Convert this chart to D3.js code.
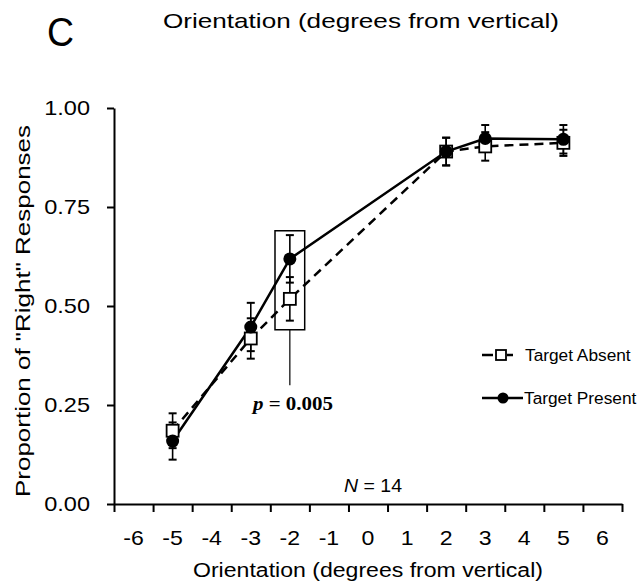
<!DOCTYPE html>
<html lang="en">
<head>
<meta charset="UTF-8">
<title>Orientation chart</title>
<script src="https://cdn.jsdelivr.net/npm/d3@7.8.4/dist/d3.min.js"></script>
<style>
    body { margin: 0; background: #fff; font-family: Arial, "Liberation Sans", sans-serif; }
    svg { display: block; }
    .tick text { font-family: Arial, "Liberation Sans", sans-serif; }
</style>
</head>
<body>
<svg id="chart" width="642" height="583"></svg>
<script>
    // orientations tested (degrees from vertical)
    const orientations = [-5, -3, -2, 2, 3, 5];
    // proportion of "right" responses, with error bar half-widths
    const absentMean = [0.185, 0.418, 0.518, 0.890, 0.903, 0.912];
    const absentErr = [0.044, 0.051, 0.055, 0.035, 0.036, 0.033];
    const presentMean = [0.159, 0.447, 0.619, 0.890, 0.923, 0.921];
    const presentErr = [0.047, 0.061, 0.060, 0.035, 0.034, 0.036];
    const xLabels = [-6, -5, -4, -3, -2, -1, 0, 1, 2, 3, 4, 5, 6];
    const yTicks = [0, 0.25, 0.5, 0.75, 1.0];

    const svg = d3.select("#chart");
    const margin = { left: 114, right: 20, top: 108, bottom: 79 };
    const width = 642, height = 583;

    const x = d3.scaleLinear().domain([-6.5, 6.5]).range([margin.left, width - margin.right]);
    const y = d3.scaleLinear().domain([0, 1]).range([height - margin.bottom, margin.top]);

    const absent = orientations.map((o, i) => ({ x: o, y: absentMean[i], e: absentErr[i] }));
    const present = orientations.map((o, i) => ({ x: o, y: presentMean[i], e: presentErr[i] }));

    // the original's lettering is a bit wider than plain Arial
    function stretch(sel, k) {
        sel.each(function() {
            const w = this.getComputedTextLength();
            d3.select(this).attr("textLength", w * k).attr("lengthAdjust", "spacingAndGlyphs");
        });
    }

    // x axis: tick marks between categories, labels in the middle
    const xAxis = svg.append("g")
        .attr("transform", `translate(0,${y(0)})`)
        .call(d3.axisBottom(x)
            .tickValues(d3.range(-6.5, 6.51, 1))
            .tickSize(8)
            .tickSizeOuter(0)
            .tickFormat(""));
    xAxis.select(".domain").attr("stroke-width", 2);
    xAxis.selectAll(".tick line").attr("stroke-width", 2);

    svg.append("g").selectAll("text")
        .data(xLabels)
        .enter().append("text")
        .attr("x", d => x(d))
        .attr("y", 545)
        .attr("text-anchor", "middle")
        .style("font-size", "21px")
        .text(d => d)
        .call(stretch, 1.1);

    const yAxis = svg.append("g")
        .attr("transform", `translate(${x(-6.5)},0)`)
        .call(d3.axisLeft(y)
            .tickValues(yTicks)
            .tickSize(7)
            .tickSizeOuter(0)
            .tickPadding(17)
            .tickFormat(d3.format(".2f")));
    yAxis.select(".domain").attr("stroke-width", 2);
    yAxis.selectAll(".tick line").attr("stroke-width", 2);
    yAxis.selectAll(".tick text").style("font-size", "21px").attr("fill", "#000").call(stretch, 1.12);

    // significance box around -2
    svg.append("rect")
        .attr("x", x(-2.38))
        .attr("y", y(0.69))
        .attr("width", x(-1.62) - x(-2.38))
        .attr("height", y(0.44) - y(0.69))
        .attr("fill", "none")
        .attr("stroke", "#000")
        .attr("stroke-width", 1.5);
    svg.append("line")
        .attr("x1", x(-2)).attr("x2", x(-2))
        .attr("y1", y(0.44)).attr("y2", y(0.30))
        .attr("stroke", "#000").attr("stroke-width", 1.2);
    const pText = svg.append("text")
        .attr("x", 293)
        .attr("y", 410)
        .attr("text-anchor", "middle")
        .style("font-family", "'Liberation Serif', 'Times New Roman', serif")
        .style("font-weight", "bold")
        .style("font-size", "19px");
    pText.append("tspan").style("font-style", "italic").text("p");
    pText.append("tspan").text(" = 0.005");
    pText.attr("textLength", 80).attr("lengthAdjust", "spacingAndGlyphs");

    const line = d3.line().x(d => x(d.x)).y(d => y(d.y));

    svg.append("path")
        .datum(absent)
        .attr("d", line)
        .attr("fill", "none")
        .attr("stroke", "#000")
        .attr("stroke-width", 2.5)
        .attr("stroke-dasharray", "9,6");
    svg.append("path")
        .datum(present)
        .attr("d", line)
        .attr("fill", "none")
        .attr("stroke", "#000")
        .attr("stroke-width", 2.5);

    function errorBars(data) {
        const g = svg.append("g").attr("stroke", "#000").attr("stroke-width", 1.6);
        data.forEach(d => {
            g.append("line").attr("x1", x(d.x)).attr("x2", x(d.x))
                .attr("y1", y(d.y - d.e)).attr("y2", y(d.y + d.e));
            [d.y - d.e, d.y + d.e].forEach(v => {
                g.append("line").attr("x1", x(d.x) - 4).attr("x2", x(d.x) + 4)
                    .attr("y1", y(v)).attr("y2", y(v)).attr("stroke-width", 2);
            });
        });
    }
    errorBars(absent);
    errorBars(present);

    svg.append("g").selectAll("rect")
        .data(absent)
        .enter().append("rect")
        .attr("x", d => x(d.x) - 6)
        .attr("y", d => y(d.y) - 6)
        .attr("width", 12).attr("height", 12)
        .attr("fill", "#fff")
        .attr("stroke", "#000")
        .attr("stroke-width", 1.8);

    svg.append("g").selectAll("circle")
        .data(present)
        .enter().append("circle")
        .attr("cx", d => x(d.x))
        .attr("cy", d => y(d.y))
        .attr("r", 6.5)
        .attr("fill", "#000");

    // legend
    const legend = svg.append("g").attr("transform", "translate(482,355)");
    legend.append("line").attr("x1", 0).attr("x2", 31).attr("y1", 0).attr("y2", 0)
        .attr("stroke", "#000").attr("stroke-width", 2.5).attr("stroke-dasharray", "11,14");
    legend.append("rect").attr("x", 14).attr("y", -5).attr("width", 10).attr("height", 10)
        .attr("fill", "#fff").attr("stroke", "#000").attr("stroke-width", 1.8);
    legend.append("text").attr("x", 43).attr("y", 6).style("font-size", "16px").text("Target Absent")
        .call(stretch, 1.08);
    legend.append("line").attr("x1", 0).attr("x2", 41).attr("y1", 43).attr("y2", 43)
        .attr("stroke", "#000").attr("stroke-width", 2.5);
    legend.append("circle").attr("cx", 21).attr("cy", 43).attr("r", 5.5).attr("fill", "#000");
    legend.append("text").attr("x", 42).attr("y", 49).style("font-size", "16px").text("Target Present")
        .call(stretch, 1.08);

    // N label
    const nText = svg.append("text")
        .attr("x", 373)
        .attr("y", 492)
        .attr("text-anchor", "middle")
        .style("font-size", "18px");
    nText.append("tspan").style("font-style", "italic").text("N");
    nText.append("tspan").text(" = 14");
    nText.attr("textLength", 58).attr("lengthAdjust", "spacingAndGlyphs");

    // titles
    svg.append("text")
        .attr("x", 361).attr("y", 28)
        .attr("text-anchor", "middle")
        .style("font-size", "21px")
        .attr("textLength", 396).attr("lengthAdjust", "spacingAndGlyphs")
        .text("Orientation (degrees from vertical)");
    svg.append("text")
        .attr("x", 47).attr("y", 46)
        .style("font-size", "40px")
        .attr("textLength", 27).attr("lengthAdjust", "spacingAndGlyphs")
        .text("C");
    svg.append("text")
        .attr("x", 368).attr("y", 577)
        .attr("text-anchor", "middle")
        .style("font-size", "20px")
        .attr("textLength", 350).attr("lengthAdjust", "spacingAndGlyphs")
        .text("Orientation  (degrees  from  vertical)");
    svg.append("text")
        .attr("transform", `translate(30,311) rotate(-90)`)
        .attr("text-anchor", "middle")
        .style("font-size", "21px")
        .attr("textLength", 372).attr("lengthAdjust", "spacingAndGlyphs")
        .text("Proportion of \"Right\" Responses");
</script>
</body>
</html>
